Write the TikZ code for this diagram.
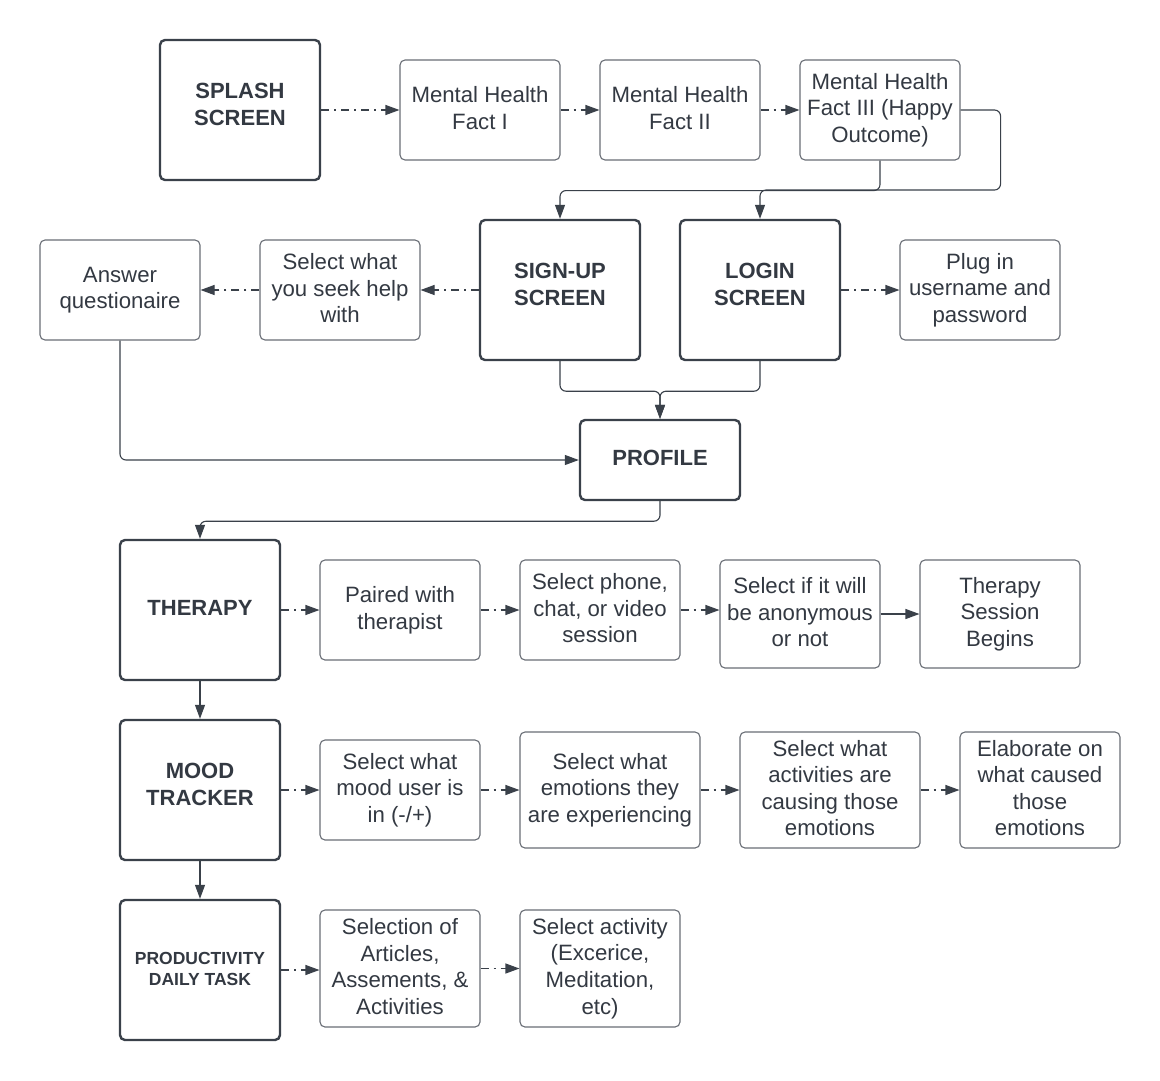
\documentclass[tikz,border=0pt]{standalone}
\usepackage{fontspec}
\setmainfont{Liberation Sans}
\usetikzlibrary{arrows.meta}
\definecolor{ink}{RGB}{51,57,66}
\definecolor{edgec}{RGB}{58,65,74}
\definecolor{thinc}{RGB}{105,110,118}
\def\liftdepth{4pt}
\tikzset{
  basebox/.style={rectangle, rounded corners=5pt, inner sep=0pt, align=center, text=ink,
    execute at begin node={\rule{0pt}{18pt}},
    execute at end node={\rule[-\liftdepth]{0pt}{0pt}}},
  lift/.code={\def\liftdepth{#1}},
  thickbox/.style={basebox, draw=edgec, line width=2.4pt, minimum width=160pt, minimum height=140pt,
    font=\fontsize{22}{26.8}\selectfont\bfseries, lift=12pt},
  thinbox/.style={basebox, draw=thinc, line width=1.1pt, minimum width=160pt, minimum height=100pt,
    font=\fontsize{22.2}{26.6}\selectfont, lift=4pt},
  conn/.style={draw=edgec, line width=1.1pt, rounded corners=6pt,
    -{Triangle[length=14pt,width=10pt]}},
  flow/.style={conn, dash pattern=on 8pt off 5pt on 2pt off 5pt},
}
\begin{document}
\begin{tikzpicture}[x=1pt,y=-1pt]
\useasboundingbox (0,0) rectangle (1160,1080);
\fill[white] (0,0) rectangle (1160,1080);

% row 1
\node[thickbox] (splash) at (240,110) {SPLASH\\SCREEN};
\node[thinbox] (f1) at (480,110) {Mental Health\\Fact I};
\node[thinbox] (f2) at (680,110) {Mental Health\\Fact II};
\node[thinbox] (f3) at (880,110) {Mental Health\\Fact III (Happy\\Outcome)};

% row 2
\node[thickbox] (signup) at (560,290) {SIGN-UP\\SCREEN};
\node[thickbox] (login) at (760,290) {LOGIN\\SCREEN};
\node[thinbox] (seek) at (340,290) {Select what\\you seek help\\with};
\node[thinbox] (answer) at (120,290) {Answer\\questionaire};
\node[thinbox] (plug) at (980,290) {Plug in\\username and\\password};

% profile
\node[thickbox, minimum height=80pt, lift=8pt] (profile) at (660,460) {PROFILE};

% therapy row
\node[thickbox, lift=8pt] (therapy) at (200,610) {THERAPY};
\node[thinbox] (paired) at (400,610) {Paired with\\therapist};
\node[thinbox] (phone) at (600,610) {Select phone,\\chat, or video\\session};
\node[thinbox, minimum height=108pt] (anon) at (800,614) {Select if it will\\be anonymous\\or not};
\node[thinbox, minimum height=108pt] (begins) at (1000,614) {Therapy\\Session\\Begins};

% mood row
\node[thickbox] (mood) at (200,790) {MOOD\\TRACKER};
\node[thinbox] (selmood) at (400,790) {Select what\\mood user is\\in (-/+)};
\node[thinbox, minimum width=180pt, minimum height=116pt] (emo) at (610,790) {Select what\\emotions they\\are experiencing};
\node[thinbox, minimum width=180pt, minimum height=116pt] (act) at (830,790) {Select what\\activities are\\causing those\\emotions};
\node[thinbox, minimum height=116pt] (elab) at (1040,790) {Elaborate on\\what caused\\those\\emotions};

% productivity row
\node[thickbox, font=\fontsize{17.5}{21.5}\selectfont\bfseries, lift=2pt] (prod) at (200,970) {PRODUCTIVITY\\DAILY TASK};
\node[thinbox, minimum height=117pt] (selart) at (400,968.5) {Selection of\\Articles,\\Assements, \&\\Activities};
\node[thinbox, minimum height=117pt] (selact) at (600,968.5) {Select activity\\(Excerice,\\Meditation,\\etc)};

% connectors row 1
\draw[flow] (splash) -- (f1);
\draw[flow] (f1) -- (f2);
\draw[flow] (f2) -- (f3);
\draw[conn] (f3.south) -- ++(0,30) -| (signup.north);
\draw[conn] (f3.east) -- ++(40,0) -- ++(0,80) -| (login.north);

% row 2
\draw[flow] (signup) -- (seek);
\draw[flow] (seek) -- (answer);
\draw[flow] (login) -- (plug);
\draw[conn] (signup.south) -- ++(0,30) -| (profile.north);
\draw[conn] (login.south) -- ++(0,30) -| (profile.north);
\draw[conn] (answer.south) |- (profile.west);
\draw[conn] (profile.south) -- ++(0,20) -| (therapy.north);

% therapy row
\draw[flow] (therapy) -- (paired);
\draw[flow] (paired) -- (phone);
\draw[flow] (phone.east) -- (phone.east -| anon.west);
\draw[conn] (anon) -- (begins);
\draw[conn] (therapy) -- (mood);

% mood row
\draw[flow] (mood) -- (selmood);
\draw[flow] (selmood) -- (emo);
\draw[flow] (emo) -- (act);
\draw[flow] (act) -- (elab);
\draw[conn] (mood) -- (prod);

% productivity row
\draw[flow] (prod.east) -- (prod.east -| selart.west);
\draw[flow] (selart.east) -- (selart.east -| selact.west);
\end{tikzpicture}
\end{document}
